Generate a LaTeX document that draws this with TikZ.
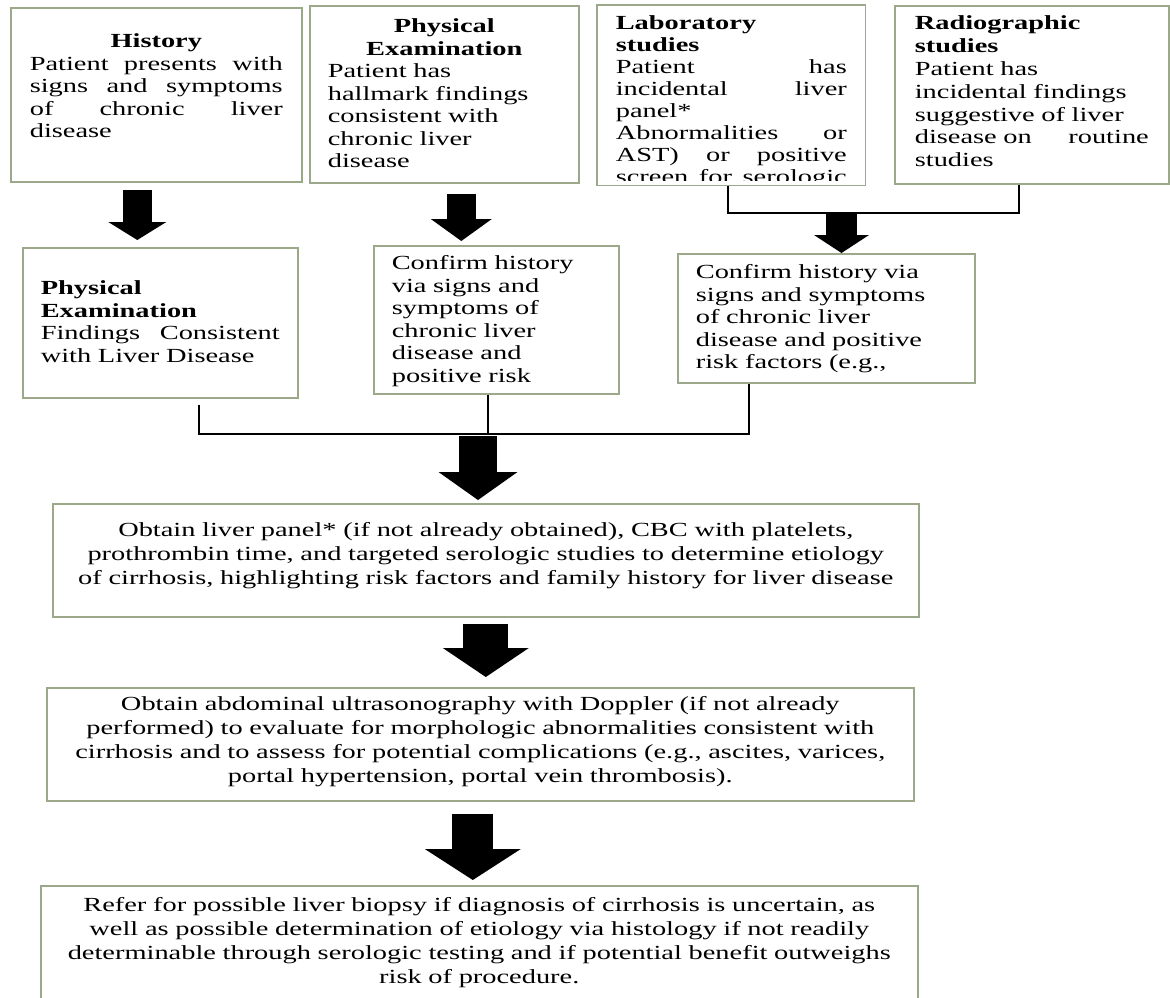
\documentclass[tikz,border=0pt]{standalone}
\usepackage{fontspec}
\setmainfont{Liberation Serif}[FakeStretch=1.42]
\usetikzlibrary{arrows.meta}
\definecolor{boxgreen}{RGB}{155,168,138}

\begin{document}
\begin{tikzpicture}[x=1pt, y=-1pt]
    % Define block styles
    \tikzstyle{block} = [rectangle, draw=boxgreen, line width=1.6pt, anchor=north west,
        inner xsep=18pt, inner ysep=0pt, align=left, font=\fontsize{20}{22.5}\selectfont]
    \tikzstyle{wide} = [block, inner xsep=0pt, align=center, font=\fontsize{20}{24}\selectfont]
    \tikzstyle{line} = [draw, line width=1.5pt] % thin bracket lines
    \tikzstyle{fat} = [draw, line cap=butt] % block arrows

    \useasboundingbox (0,0) rectangle (1170,997);

    % Place nodes
    \node [block, text width=253pt, minimum width=291pt, text height=40pt, text depth=134pt] (hist) at (10,7)
        {\hspace*{\fill}\textbf{History}\hfill\null\\
         Patient \hfill presents \hfill with\\
         signs \hfill and \hfill symptoms\\
         of \hfill chronic \hfill liver\\
         disease};
    \node [block, text width=233pt, minimum width=269pt, text height=27pt, text depth=150pt] (phys) at (309,5)
        {\hspace*{\fill}\textbf{Physical}\hfill\null\\
         \hspace*{\fill}\textbf{Examination}\hfill\null\\
         Patient has\\ hallmark findings\\ consistent with\\ chronic liver\\ disease};
    \begin{scope}
        \clip (594,2) rectangle (867,180);
        \node [block, draw=none, text width=231pt, minimum width=267pt, text height=24pt, text depth=155pt,
            font=\fontsize{20}{22}\selectfont] (lab) at (597,5)
            {\textbf{Laboratory}\\ \textbf{studies}\\
             Patient \hfill has\\ incidental \hfill liver\\ panel*\\
             Abnormalities \hfill or\\ AST) \hfill or \hfill positive\\
             screen \hfill for \hfill serologic};
    \end{scope}
    \draw [boxgreen, line width=1.6pt] (lab.north west) rectangle (lab.south east); % text runs past the box
    \node [block, text width=234pt, minimum width=274pt, text height=24pt, text depth=154pt,
        font=\fontsize{20}{22.8}\selectfont] (rad) at (894,5)
        {\textbf{Radiographic}\\ \textbf{studies}\\
         Patient has\\ incidental findings\\ suggestive of liver\\
         disease on \hfill routine\\ studies};

    \node [block, text width=239pt, minimum width=275pt, text height=47pt, text depth=103pt] (phm) at (22,247)
        {\textbf{Physical}\\ \textbf{Examination}\\
         Findings \hfill Consistent\\ with Liver Disease};
    \node [block, text width=209pt, minimum width=245pt, text height=24pt, text depth=124pt] (conf1) at (373,245)
        {Confirm history\\ via signs and\\ symptoms of\\ chronic liver\\ disease and\\ positive risk};
    \node [block, text width=261pt, minimum width=297pt, text height=25pt, text depth=104pt] (conf2) at (677,253)
        {Confirm history via\\ signs and symptoms\\ of chronic liver\\ disease and positive\\ risk factors (e.g.,};

    \node [wide, text width=866pt, text height=33pt, text depth=80pt] (liver) at (52,503)
        {Obtain liver panel* (if not already obtained), CBC with platelets,\\
         prothrombin time, and targeted serologic studies to determine etiology\\
         of cirrhosis, highlighting risk factors and family history for liver disease};
    \node [wide, text width=867pt, text height=23pt, text depth=90pt] (us) at (46,687)
        {Obtain abdominal ultrasonography with Doppler (if not already\\
         performed) to evaluate for morphologic abnormalities consistent with\\
         cirrhosis and to assess for potential complications (e.g., ascites, varices,\\
         portal hypertension, portal vein thrombosis).};
    \node [wide, text width=877pt, text height=26pt, text depth=89pt] (refer) at (40,885)
        {Refer for possible liver biopsy if diagnosis of cirrhosis is uncertain, as\\
         well as possible determination of etiology via histology if not readily\\
         determinable through serologic testing and if potential benefit outweighs\\
         risk of procedure.};

    \coordinate (j1) at (841.5,213);
    \coordinate (j2) at (478,434);

    % Draw arrows
    \path [fat, line width=29pt, -{Triangle[width=58pt,length=18pt,line width=0pt]}, shorten <=7pt, shorten >=7pt]
        ([xshift=-19pt]hist.south) -- ([xshift=-19pt]hist.south |- phm.north);
    \path [fat, line width=29pt, -{Triangle[width=61pt,length=22pt,line width=0pt]}, shorten <=10pt, shorten >=4pt]
        ([xshift=17pt]phys.south) -- ([xshift=17pt]phys.south |- conf1.north);

    \path [line] ([xshift=-3.5pt]lab.south) |- (j1);
    \path [line] ([xshift=-13pt]rad.south) |- (j1);
    \path [fat, line width=31pt, -{Triangle[width=55pt,length=18pt,line width=0pt]}] (j1) -- (j1 |- conf2.north);

    % Bracket under the middle row
    \path [line, shorten <=6pt] ([xshift=38.5pt]phm.south) |- (j2);
    \path [line] ([xshift=-8.5pt]conf1.south) -- ([xshift=-8.5pt]conf1.south |- j2);
    \path [line] ([xshift=-77.5pt]conf2.south) |- (j2);
    \path [fat, line width=38pt, -{Triangle[width=79pt,length=28pt,line width=0pt]}, shorten <=2pt, shorten >=3pt]
        (j2) -- (j2 |- liver.north);

    \path [fat, line width=45pt, -{Triangle[width=86pt,length=29pt,line width=0pt]}, shorten <=6pt, shorten >=10pt]
        (liver.south) -- (liver.south |- us.north);
    \path [fat, line width=41pt, -{Triangle[width=96pt,length=31pt,line width=0pt]}, shorten <=12pt, shorten >=5pt]
        ([xshift=-7.5pt]us.south) -- ([xshift=-7.5pt]us.south |- refer.north);

\end{tikzpicture}
\end{document}
